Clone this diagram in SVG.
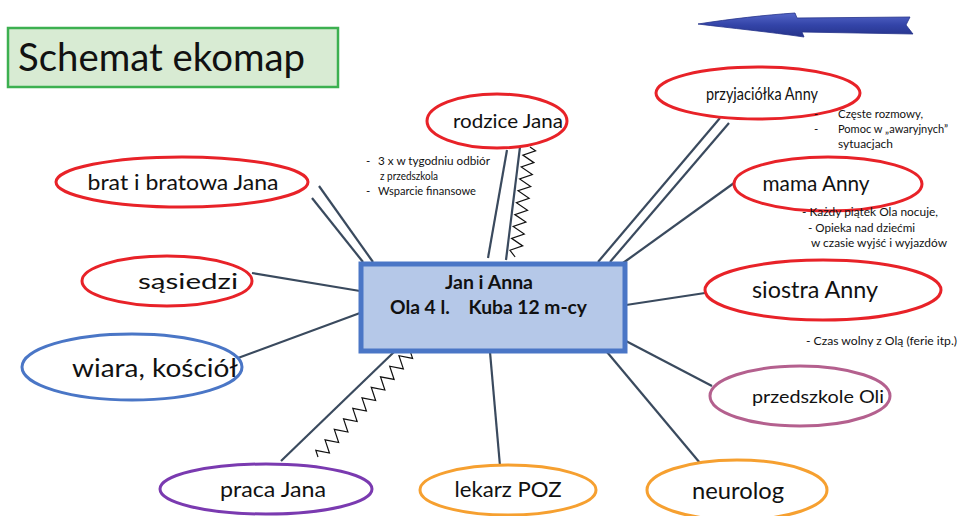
<svg xmlns="http://www.w3.org/2000/svg" width="959" height="516" viewBox="0 0 959 516">
  <defs>
    <linearGradient id="arrowFill" x1="0" y1="0" x2="0" y2="1">
      <stop offset="0" stop-color="#5566c8"/>
      <stop offset="0.5" stop-color="#3344a8"/>
      <stop offset="1" stop-color="#26338a"/>
    </linearGradient>
    <style>
      text { font-family: Lato, "Open Sans", "Liberation Sans", sans-serif; fill: #111; }
      .lbl { text-anchor: middle; }
      .ell { fill: #fff; stroke-width: 3; }
      .red { stroke: #e82228; }
      .blue { stroke: #4a76c6; }
      .purple { stroke: #7a3ab0; }
      .orange { stroke: #f6a030; }
      .mauve { stroke: #b4608e; }
      .link { stroke: #3a4a5e; stroke-width: 2.2; fill: none; }
      .zig { stroke: #111; stroke-width: 1.2; fill: none; stroke-linejoin: miter; }
      .note { font-size: 11.5px; }
    </style>
  </defs>

  <rect width="959" height="516" fill="#fff"/>

  <!-- title -->
  <g id="title">
    <rect x="8" y="28" width="330" height="59" fill="#d8ebd3" stroke="#3cb050" stroke-width="2.5"/>
    <text x="18" y="71" font-size="38" textLength="287" lengthAdjust="spacingAndGlyphs">Schemat ekomap</text>
  </g>

  <!-- direction arrow -->
  <g id="arrow">
    <path d="M698,24 C730,19 765,15 795,13 L797,18 L910,17 L906,25 L913,34 L802,32 L804,37 C770,32 730,28 698,24 Z" fill="url(#arrowFill)" stroke="#26338a" stroke-width="0.8"/>
  </g>

  <!-- connectors -->
  <g id="connectors">
    <!-- rodzice Jana -->
    <line class="link" x1="507" y1="150" x2="488" y2="258"/>
    <line class="link" x1="520" y1="147" x2="506" y2="260"/>
    <path class="zig" transform="translate(530,147) rotate(7.7)" d="M0,0 L6,3 L-6,9 L6,15 L-6,21 L6,27 L-6,33 L6,39 L-6,45 L6,51 L-6,57 L6,63 L-6,69 L6,75 L-6,81 L6,87 L-6,93 L6,99 L-6,105 L0,111"/>
    <!-- przyjaciółka Anny -->
    <line class="link" x1="720" y1="118" x2="598" y2="262"/>
    <line class="link" x1="729" y1="123" x2="610" y2="262"/>
    <!-- mama Anny -->
    <line class="link" x1="734" y1="183" x2="623" y2="263"/>
    <!-- siostra Anny -->
    <line class="link" x1="705" y1="293" x2="626" y2="305"/>
    <!-- przedszkole Oli -->
    <line class="link" x1="712" y1="386" x2="624" y2="340"/>
    <!-- neurolog -->
    <line class="link" x1="700" y1="463" x2="607" y2="352"/>
    <!-- lekarz POZ -->
    <line class="link" x1="500" y1="466" x2="490" y2="352"/>
    <!-- praca Jana -->
    <line class="link" x1="281" y1="461" x2="394" y2="352"/>
    <path class="zig" transform="translate(318,457) rotate(-138.7)" d="M0,0 L6,3.5 L-6,10.5 L6,17.5 L-6,24.5 L6,31.5 L-6,38.5 L6,45.5 L-6,52.5 L6,59.5 L-6,66.5 L6,73.5 L-6,80.5 L6,87.5 L-6,94.5 L6,101.5 L-6,108.5 L6,115.5 L-6,122.5 L6,129.5 L-6,136.5 L0,140"/>
    <!-- wiara, kościół -->
    <line class="link" x1="238" y1="358" x2="360" y2="313"/>
    <!-- sąsiedzi -->
    <line class="link" x1="252" y1="273" x2="360" y2="291"/>
    <!-- brat i bratowa Jana -->
    <line class="link" x1="319" y1="186" x2="373" y2="262"/>
    <line class="link" x1="312" y1="198" x2="363" y2="262"/>
  </g>

  <!-- central family node -->
  <g id="family">
    <rect x="361" y="264" width="264" height="87" fill="#b5c8e8" stroke="#4a76c6" stroke-width="5"/>
    <text class="lbl" x="489" y="289" font-size="19" font-weight="bold" textLength="88" lengthAdjust="spacingAndGlyphs">Jan i Anna</text>
    <text x="390" y="314" font-size="19" font-weight="bold" xml:space="preserve" textLength="197" lengthAdjust="spacingAndGlyphs">Ola 4 l.    Kuba 12 m-cy</text>
  </g>

  <g id="rodzice-jana">
    <ellipse class="ell red" cx="497" cy="121" rx="70" ry="27"/>
    <text class="lbl" x="508" y="128" font-size="20" textLength="110" lengthAdjust="spacingAndGlyphs">rodzice Jana</text>
  </g>
  <g id="note-rodzice">
    <text x="366" y="165" class="note">-</text>
    <text x="378" y="165" class="note" textLength="112" lengthAdjust="spacingAndGlyphs">3 x w tygodniu odbiór</text>
    <text x="380" y="180" class="note" textLength="58" lengthAdjust="spacingAndGlyphs">z  przedszkola</text>
    <text x="366" y="195" class="note">-</text>
    <text x="378" y="195" class="note" textLength="98" lengthAdjust="spacingAndGlyphs">Wsparcie finansowe</text>
  </g>

  <g id="przyjaciolka-anny">
    <ellipse class="ell red" cx="758" cy="93" rx="102" ry="26"/>
    <text class="lbl" x="762" y="100" font-size="17" textLength="112" lengthAdjust="spacingAndGlyphs">przyjaciółka Anny</text>
  </g>
  <g id="note-przyjaciolka">
    <text x="814" y="118" class="note">-</text>
    <text x="838" y="118" class="note" textLength="85" lengthAdjust="spacingAndGlyphs">Częste rozmowy,</text>
    <text x="814" y="133" class="note">-</text>
    <text x="838" y="133" class="note" textLength="110" lengthAdjust="spacingAndGlyphs">Pomoc w „awaryjnych”</text>
    <text x="838" y="148" class="note" textLength="55" lengthAdjust="spacingAndGlyphs">sytuacjach</text>
  </g>

  <g id="mama-anny">
    <ellipse class="ell red" cx="828" cy="184" rx="94" ry="27"/>
    <text class="lbl" x="816" y="191" font-size="21" textLength="107" lengthAdjust="spacingAndGlyphs">mama Anny</text>
  </g>
  <g id="note-mama">
    <text x="802" y="216" class="note" textLength="136" lengthAdjust="spacingAndGlyphs">- Każdy piątek Ola nocuje,</text>
    <text x="808" y="232" class="note" textLength="107" lengthAdjust="spacingAndGlyphs">- Opieka nad dziećmi</text>
    <text x="811" y="247" class="note" textLength="136" lengthAdjust="spacingAndGlyphs">w czasie wyjść i wyjazdów</text>
  </g>

  <g id="siostra-anny">
    <ellipse class="ell red" cx="823" cy="290" rx="118" ry="30"/>
    <text class="lbl" x="815" y="298" font-size="23" textLength="126" lengthAdjust="spacingAndGlyphs">siostra Anny</text>
  </g>
  <g id="note-siostra">
    <text x="806" y="345" class="note" textLength="151" lengthAdjust="spacingAndGlyphs">- Czas wolny z Olą (ferie itp.)</text>
  </g>

  <g id="przedszkole-oli">
    <ellipse class="ell mauve" cx="800" cy="396" rx="90" ry="30"/>
    <text class="lbl" x="818" y="403" font-size="18" textLength="132" lengthAdjust="spacingAndGlyphs">przedszkole Oli</text>
  </g>

  <g id="neurolog">
    <ellipse class="ell orange" cx="737" cy="490" rx="90" ry="30"/>
    <text class="lbl" x="738" y="499" font-size="23" textLength="92" lengthAdjust="spacingAndGlyphs">neurolog</text>
  </g>

  <g id="lekarz-poz">
    <ellipse class="ell orange" cx="508" cy="490" rx="88" ry="25"/>
    <text class="lbl" x="508" y="497" font-size="21" textLength="107" lengthAdjust="spacingAndGlyphs">lekarz POZ</text>
  </g>

  <g id="praca-jana">
    <ellipse class="ell purple" cx="266" cy="489" rx="106" ry="25"/>
    <text class="lbl" x="273" y="497" font-size="22" textLength="106" lengthAdjust="spacingAndGlyphs">praca Jana</text>
  </g>

  <g id="wiara-kosciol">
    <ellipse class="ell blue" cx="132" cy="367" rx="110" ry="33"/>
    <text class="lbl" x="155" y="377" font-size="25" textLength="166" lengthAdjust="spacingAndGlyphs">wiara, kościół</text>
  </g>

  <g id="sasiedzi">
    <ellipse class="ell red" cx="167" cy="281" rx="85" ry="25"/>
    <text class="lbl" x="188" y="289" font-size="22" textLength="100" lengthAdjust="spacingAndGlyphs">sąsiedzi</text>
  </g>

  <g id="brat-i-bratowa-jana">
    <ellipse class="ell red" cx="182" cy="182" rx="126" ry="25"/>
    <text class="lbl" x="183" y="190" font-size="21" textLength="191" lengthAdjust="spacingAndGlyphs">brat i bratowa Jana</text>
  </g>
</svg>
